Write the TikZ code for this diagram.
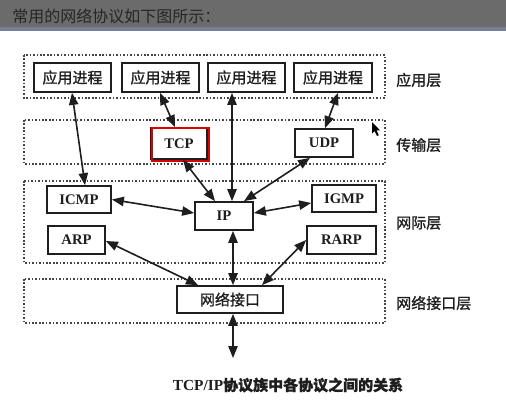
\documentclass[tikz,border=0pt]{standalone}
\usepackage{fontspec}
\setmainfont{Liberation Serif}
\newfontfamily\cjk{Noto Sans CJK SC}
\newfontfamily\cjkb[FakeBold=1.2]{Noto Sans CJK SC}
\usetikzlibrary{arrows.meta,calc}
\definecolor{bargray}{HTML}{6B6B6B}
\definecolor{barblue}{HTML}{7B7E98}
\definecolor{titletext}{HTML}{262626}
\definecolor{ink}{HTML}{1E1E1E}
\definecolor{dotted}{HTML}{454545}
\tikzset{
  layerbox/.style={draw=dotted,line width=1.1pt,dash pattern=on 1.2pt off 1.4pt},
  pbox/.style={draw=ink,line width=1.3pt,fill=white,inner sep=0pt,
    font=\fontsize{11}{12}\selectfont\bfseries,text=ink},
  cbox/.style={pbox,font=\cjkb\fontsize{11.25}{13}\selectfont},
  sz/.style 2 args={minimum width=#1*0.75pt,minimum height=#2*0.75pt},
  conn/.style={draw=ink,line width=1.2pt,{Triangle[length=9pt,width=7pt]}-{Triangle[length=9pt,width=7pt]}},
  layerlabel/.style={anchor=west,inner sep=0pt,text=ink,font=\cjkb\fontsize{11.25}{13}\selectfont}
}
\begin{document}
\begin{tikzpicture}[x=0.75pt,y=-0.75pt]
\useasboundingbox (0,0) rectangle (506,405);
\fill[white] (0,0) rectangle (506,405);
% title bar
\fill[bargray] (0,0) rectangle (506,27);
\fill[barblue] (0,27) rectangle (506,31);
\node[anchor=west,inner sep=0pt,text=titletext,font=\cjk\fontsize{12}{14}\selectfont] (title) at (12,16) {常用的网络协议如下图所示：};
% layers
\draw[layerbox] (24,55) rectangle (385,98);
\draw[layerbox] (24,120) rectangle (385,164);
\draw[layerbox] (24,181) rectangle (385,263);
\draw[layerbox] (24,279) rectangle (385,323);
\node[layerlabel] (l1) at (396,80) {应用层};
\node[layerlabel] (l2) at (396,145) {传输层};
\node[layerlabel] (l3) at (396,223) {网际层};
\node[layerlabel] (l4) at (396,303) {网络接口层};
% boxes
\node[cbox,sz={77}{29}] (a1) at (72.5,77.5) {应用进程};
\node[cbox,sz={77}{29}] (a2) at (160.5,77.5) {应用进程};
\node[cbox,sz={77}{29}] (a3) at (246.5,77.5) {应用进程};
\node[cbox,sz={78}{29}] (a4) at (333,77.5) {应用进程};
\node[pbox,sz={56}{31}] (tcp) at (179,143.5) {TCP};
\draw[red!85!black,line width=1.5pt] ($(tcp.north west)+(1.5,1)$) rectangle ($(tcp.south east)+(1.5,1)$);
\node[pbox,sz={58}{28}] (udp) at (324,143) {UDP};
\node[pbox,sz={64}{27}] (icmp) at (79,199.5) {ICMP};
\node[pbox,sz={57}{28}] (arp) at (76.5,240) {ARP};
\node[pbox,sz={58}{28}] (ip) at (224,216) {IP};
\node[pbox,sz={64}{27}] (igmp) at (344,198.5) {IGMP};
\node[pbox,sz={69}{28}] (rarp) at (341.5,240) {RARP};
\node[cbox,sz={106}{27}] (net) at (230,299.5) {网络接口};
\coordinate (down) at (233,358);
% connectors
\draw[conn] ($(a1.south)+(-0.5,0)$) -- ($(icmp.north)+(6,0)$);
\draw[conn] ($(a2.south)+(-0.5,0)$) -- ($(tcp.north)+(-4,0)$);
\draw[conn] ($(a3.south)+(-14.5,0)$) -- ($(ip.north)+(8,0)$);
\draw[conn] ($(a4.south)+(5,0)$) -- ($(udp.north)+(1,0)$);
\draw[conn] ($(tcp.south)+(4,0)$) -- ($(ip.north)+(-9,0)$);
\draw[conn] ($(udp.south)+(-14,0)$) -- ($(ip.north)+(20,0)$);
\draw[conn] (icmp.east) -- ($(ip.west)+(0,-3)$);
\draw[conn] ($(igmp.west)+(0,4.5)$) -- ($(ip.east)+(0,-3)$);
\draw[conn] ($(arp.east)+(0,1)$) -- ($(net.north)+(-32,0)$);
\draw[conn] (rarp.west) -- ($(net.north)+(32,0)$);
\draw[conn] ($(ip.south)+(9,0)$) -- ($(net.north)+(3,0)$);
\draw[conn] ($(net.south)+(3,0)$) -- (down);
% cursor
\fill[black] (372,122) -- (372,133.5) -- (374.6,131) -- (377,136) -- (378.8,135.2) -- (376.5,130.3) -- (380,130.3) -- cycle;
% caption
\node[inner sep=0pt,text=ink] (cap) at (288,385) {\fontsize{11.5}{14}\selectfont\bfseries TCP/IP\cjkb\fontsize{11.25}{14}\selectfont 协议族中各协议之间的关系};
\end{tikzpicture}
\end{document}
